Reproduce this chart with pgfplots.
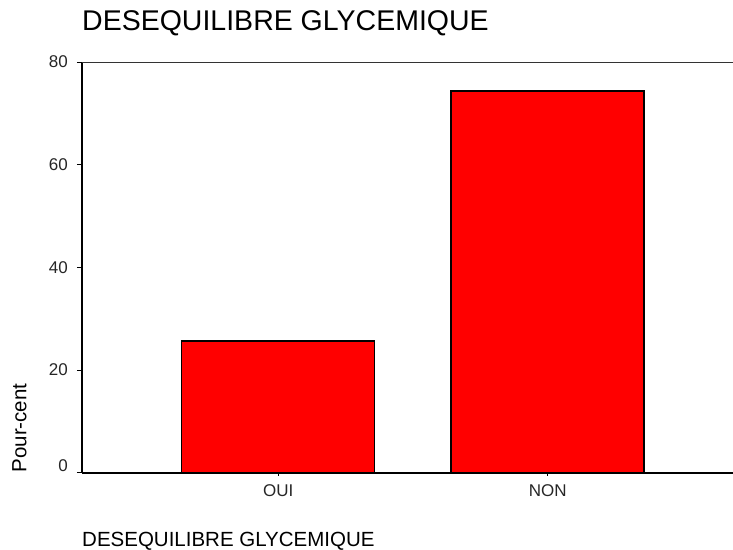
\documentclass[border=0pt]{standalone}
\usepackage{pgfplots}
\pgfplotsset{compat=1.18}
\usepackage{fontspec}
\setmainfont{Liberation Sans}
\begin{document}
\begin{tikzpicture}
\useasboundingbox (-82pt,-76.3pt) rectangle (651pt,472.7pt);
\begin{axis}[
  at={(0pt,0pt)}, anchor=south west,
  scale only axis, width=651pt, height=410.7pt,
  ybar, bar width=193pt,
  xmin=0.272, xmax=2.6876, ymin=0, ymax=80,
  axis x line*=bottom, axis y line*=left,
  axis line style={line width=1.6pt, black},
  tick align=outside,
  xtick={1,2}, xticklabels={OUI,NON},
  ytick={20,40,60,80},
  extra y ticks={0},
  extra y tick style={yticklabel style={yshift=7pt}},
  major tick length=5pt,
  tick style={line width=0.8pt, black},
  xtick style={/pgfplots/major tick length=3pt},
  /pgf/number format/assume math mode=true,
  ticklabel style={font=\fontsize{17}{20}\selectfont, text=black!85},
  yticklabel style={anchor=east, inner sep=0pt, xshift=-9pt},
  xticklabel style={anchor=north, inner sep=0pt, yshift=-7pt},
  title={DESEQUILIBRE GLYCEMIQUE},
  title style={at={(axis description cs:0,1.061)}, anchor=base west, inner sep=0pt, font=\fontsize{28.5}{32}\selectfont},
  xlabel={DESEQUILIBRE GLYCEMIQUE},
  xlabel style={at={(axis description cs:0,-0.1785)}, anchor=base west, inner sep=0pt, font=\fontsize{20.5}{24}\selectfont},
  ylabel={Pour-cent},
  ylabel style={at={(axis description cs:-0.096,0.1088)}, anchor=center, inner sep=0pt, font=\fontsize{20.5}{24}\selectfont},
  clip=false,
]
\addplot[fill=red, draw=black, line width=1.4pt] coordinates {(1,25.64) (2,74.36)};
\draw[line width=1pt, black!80] (rel axis cs:0,1) -- (rel axis cs:1,1);
\end{axis}
\end{tikzpicture}
\end{document}
